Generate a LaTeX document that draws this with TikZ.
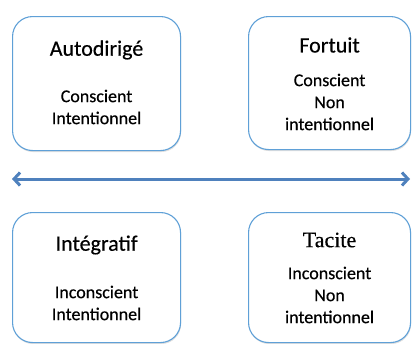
\documentclass[tikz,border=0pt]{standalone}
\usepackage{fontspec}
\setmainfont{Carlito}[FakeBold=0.4,AutoFakeBold=0.4]
\newfontfamily\serifface{Liberation Serif}[FakeBold=0.3,AutoFakeBold=0.3]
\usetikzlibrary{positioning,arrows.meta,shadows}
\definecolor{boxblue}{RGB}{95,160,215}
\definecolor{arrowblue}{RGB}{79,129,189}

\begin{document}
\begin{tikzpicture}[x=1pt,y=-1pt,
		kind/.style={draw=boxblue,line width=1.1pt,rounded corners=20pt,fill=white,
			drop shadow={shadow xshift=0.6pt,shadow yshift=-1.5pt,opacity=0.25},
			inner sep=0pt,anchor=north west},
		title/.style={font=\fontsize{22}{26}\selectfont\bfseries,inner sep=0pt},
		body/.style={font=\fontsize{18}{22}\selectfont\bfseries,align=center,inner sep=0pt}]
		\useasboundingbox (0,0) rectangle (412,343);

		\node[kind,minimum width=168pt,minimum height=134pt]	(auto)	at (12,16)	{};
		\node[kind,minimum width=162pt,minimum height=133pt]	(fort)	at (248,16)	{};
		\node[kind,minimum width=168pt,minimum height=130pt]	(integ)	at (12,212)	{};
		\node[kind,minimum width=162pt,minimum height=130pt]	(tac)	at (248,212)	{};

		\node[title]	(auto-t)	at ([yshift=-34pt]auto.north)	{Autodirigé};
		\node[body]		(auto-b)	at ([yshift=-91pt]auto.north)	{Conscient\\Intentionnel};
		\node[title]	(fort-t)	at ([yshift=-29pt]fort.north)	{Fortuit};
		\node[body]		(fort-b)	at ([yshift=-86pt]fort.north)	{Conscient\\Non\\intentionnel};
		\node[title]	(integ-t)	at ([yshift=-33pt]integ.north)	{Intégratif};
		\node[body]		(integ-b)	at ([yshift=-91pt]integ.north)	{Inconscient\\Intentionnel};
		\node[title,font=\fontsize{22}{26}\selectfont\serifface\bfseries]	(tac-t)	at ([yshift=-28pt]tac.north)	{Tacite};
		\node[body]		(tac-b)	at ([yshift=-83pt]tac.north)	{Inconscient\\Non\\intentionnel};

		\coordinate (left)	at (12,179);
		\coordinate (right)	at (410,179);
		\draw[arrowblue,line width=3pt,{Straight Barb[length=6pt,width=13pt]}-{Straight Barb[length=6pt,width=13pt]}] (left) -- (right);
	\end{tikzpicture}
\end{document}
